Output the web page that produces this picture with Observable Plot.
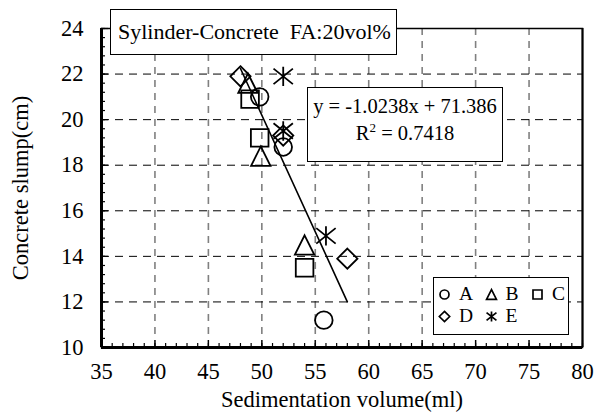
<!DOCTYPE html>
<html>
<head>
<meta charset="utf-8">
<script src="https://cdn.jsdelivr.net/npm/d3@7"></script>
<script src="https://cdn.jsdelivr.net/npm/@observablehq/plot@0.6"></script>
<style>
  html, body { margin: 0; padding: 0; background: white; }
  #wrap { position: relative; width: 604px; height: 412px; font-family: "Liberation Serif", "Times New Roman", serif; color: black; }
  #wrap svg { display: block; }
  .box { position: absolute; box-sizing: border-box; border: 1px solid black; background: white; }
  #title { left: 110px; top: 9px; width: 287px; height: 46px; line-height: 44px; padding-left: 7px; white-space: pre; font-size: 22px; }
  #eq { left: 307px; top: 87px; width: 196px; height: 75px; text-align: center; line-height: 27px; padding-top: 5px; font-size: 20.5px; }
  #eq sup { font-size: 13px; vertical-align: 8px; line-height: 0; }
  #legend { left: 433px; top: 277px; width: 136px; height: 58px; padding: 5px 0 0 3px; overflow: visible; }
  #legend .lg-swatches { font-family: "Liberation Serif", serif !important; font-size: 19.5px !important; margin: 0 !important; min-height: 0 !important; width: 150px; }
  #legend .lg-swatch { width: 46.5px; height: 22px; margin-right: 0 !important; }
  #legend .lg-swatch > svg { margin-right: 7px !important; }
</style>
</head>
<body>
<div id="wrap"></div>
<script>
// Sedimentation volume (ml) and concrete slump (cm) for the five series
const series = ["A", "B", "C", "D", "E"];
const volumeA = [49.8, 52, 55.8];
const slumpA  = [21.0, 18.8, 11.2];
const volumeB = [48.7, 49.9, 54];
const slumpB  = [21.6, 18.4, 14.5];
const volumeC = [48.9, 49.8, 54];
const slumpC  = [20.9, 19.2, 13.5];
const volumeD = [48, 52, 58];
const slumpD  = [21.9, 19.3, 13.9];
const volumeE = [52, 52, 56];
const slumpE  = [21.9, 19.5, 14.9];

// Linear trend line fitted to all points
const slope = -1.0238;
const intercept = 71.386;
const rSquared = 0.7418;

const titleText = "Sylinder-Concrete  FA:20vol%";
const xTicks = [35, 40, 45, 50, 55, 60, 65, 70, 75, 80];
const yTicks = [10, 12, 14, 16, 18, 20, 22, 24];

const volumes = [volumeA, volumeB, volumeC, volumeD, volumeE];
const slumps = [slumpA, slumpB, slumpC, slumpD, slumpE];
const points = series.flatMap((s, i) =>
  volumes[i].map((v, j) => ({series: s, volume: v, slump: slumps[i][j]})));

const allX = points.map(d => d.volume);
const trend = [d3.min(allX), d3.max(allX)].map(x => ({x, y: slope * x + intercept}));

// Marker shapes in the style of spreadsheet chart markers (outline only)
const rOf = size => Math.sqrt(size / Math.PI);
const markerCircle = {draw(ctx, size) { const r = rOf(size); ctx.moveTo(r, 0); ctx.arc(0, 0, r, 0, 2 * Math.PI); }};
const markerTriangle = {draw(ctx, size) { const r = rOf(size) * 1.1; ctx.moveTo(0, -r); ctx.lineTo(r, r); ctx.lineTo(-r, r); ctx.closePath(); }};
const markerSquare = {draw(ctx, size) { const r = rOf(size); ctx.rect(-r, -r, 2 * r, 2 * r); }};
const markerDiamond = {draw(ctx, size) { const r = rOf(size) * 1.15; ctx.moveTo(0, -r); ctx.lineTo(r, 0); ctx.lineTo(0, r); ctx.lineTo(-r, 0); ctx.closePath(); }};
const markerStar = {draw(ctx, size) {
  const r = rOf(size) * 1.1;
  ctx.moveTo(0, -r); ctx.lineTo(0, r);
  ctx.moveTo(-r, -r * 0.8); ctx.lineTo(r, r * 0.8);
  ctx.moveTo(-r, r * 0.8); ctx.lineTo(r, -r * 0.8);
}};

const W = 604, H = 412;
const M = {top: 28, right: 22, bottom: 65, left: 101};
const innerW = W - M.left - M.right;
const innerH = H - M.top - M.bottom;

const minorX = d3.range(35, 80.001, 1);
const minorY = d3.range(10, 24.001, 0.4);

const chart = Plot.plot({
  width: W,
  height: H,
  marginTop: M.top,
  marginRight: M.right,
  marginBottom: M.bottom,
  marginLeft: M.left,
  style: {fontFamily: "Liberation Serif, Times New Roman, serif", fontSize: "21px", background: "white", color: "black", overflow: "visible"},
  x: {domain: [35, 80]},
  y: {domain: [10, 24]},
  symbol: {domain: series, range: [markerCircle, markerTriangle, markerSquare, markerDiamond, markerStar]},
  marks: [
    // dashed grid
    Plot.ruleX(xTicks.slice(1, -1), {stroke: "#808080", strokeWidth: 1.6, strokeDasharray: "7,6"}),
    Plot.ruleY(yTicks.slice(1, -1), {stroke: "black", strokeWidth: 1, strokeDasharray: "8,6"}),
    // inside tick marks
    Plot.tickX(minorX, {stroke: "black", strokeWidth: 1.2, insetTop: innerH - 4}),
    Plot.tickX(xTicks, {stroke: "black", strokeWidth: 1.2, insetTop: innerH - 7}),
    Plot.tickY(minorY, {stroke: "black", strokeWidth: 1.2, insetRight: innerW - 4}),
    Plot.tickY(yTicks, {stroke: "black", strokeWidth: 1.2, insetRight: innerW - 7}),
    // plot-area border
    Plot.frame({stroke: "black", strokeWidth: 1.5}),
    Plot.ruleX([35], {stroke: "black", strokeWidth: 3}),
    Plot.ruleX([80], {stroke: "black", strokeWidth: 2}),
    Plot.ruleY([10], {stroke: "black", strokeWidth: 3}),
    Plot.axisX({ticks: xTicks, tickSize: 0, tickPadding: 16, label: "Sedimentation volume(ml)", labelAnchor: "center", labelArrow: "none", labelOffset: 59, fontSize: 22.5}),
    Plot.axisY({ticks: yTicks, tickSize: 0, tickPadding: 18, label: "Concrete slump(cm)", labelAnchor: "center", labelArrow: "none", labelOffset: 89, fontSize: 22.5}),
    // trend line
    Plot.line(trend, {x: "x", y: "y", stroke: "black", strokeWidth: 1.6}),
    // data points
    Plot.dot(points, {x: "volume", y: "slump", symbol: "series", r: 8.8, fill: "none", stroke: "black", strokeWidth: 1.8})
  ]
});

const wrap = document.getElementById("wrap");
wrap.appendChild(chart);

const title = document.createElement("div");
title.className = "box";
title.id = "title";
title.textContent = titleText;
wrap.appendChild(title);

const eq = document.createElement("div");
eq.className = "box";
eq.id = "eq";
const sign = intercept >= 0 ? "+" : "-";
eq.innerHTML = `y = ${slope}x ${sign} ${Math.abs(intercept)}<br>R<sup>2</sup> = ${rSquared}`;
wrap.appendChild(eq);

const legendBox = document.createElement("div");
legendBox.className = "box";
legendBox.id = "legend";
legendBox.appendChild(chart.legend("symbol", {className: "lg", r: 4.8, stroke: "black", fill: "none", strokeWidth: 1.8, swatchSize: 15}));
wrap.appendChild(legendBox);
</script>
</body>
</html>
